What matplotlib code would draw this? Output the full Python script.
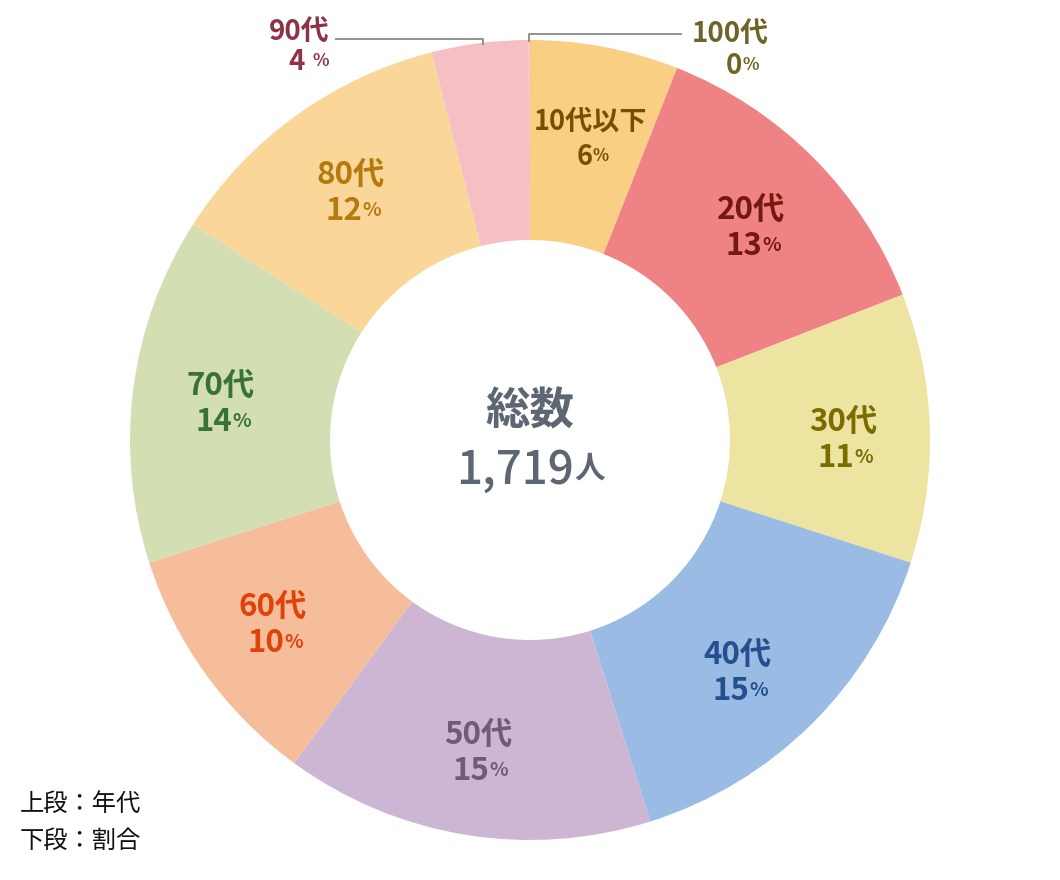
import numpy as np
import matplotlib.pyplot as plt

plt.rcParams['font.family'] = ['Noto Sans CJK JP', 'DejaVu Sans']

groups = ['10代以下', '20代', '30代', '40代', '50代', '60代', '70代', '80代', '90代', '100代']
counts = [103, 225, 187, 261, 256, 172, 241, 206, 67, 1]
percents = [6, 13, 11, 15, 15, 10, 14, 12, 4, 0]
total_label = '1,719'

wedge_colors = ['#F9CF84', '#EF8285', '#EEE4A1', '#9ABBE4', '#CDB5D4',
                '#F6BD9A', '#D3DEB3', '#FAD799', '#F6BFC3', '#F6BFC3']
text_colors = ['#7A4E02', '#731A0C', '#7A6C00', '#245090', '#6E5B76',
               '#E0420A', '#3A7232', '#B57A0E', '#8C3446', '#6E6425']
# small position tweaks for the inner labels (px, right / down)
label_nudge = [(2, 4), (1, 7), (3, 9), (-11, 13), (-2, 7), (-6, 3), (-2, 4), (2, 4)]

W, H = 1060, 880
fig = plt.figure(figsize=(W / 100, H / 100), dpi=100)
ax = fig.add_axes([0, 0, 1, 1])

cx, cy, r_out = 530, 440, 400
wedges, _ = ax.pie(counts, radius=r_out, center=(cx, cy), startangle=90,
                   counterclock=False, colors=wedge_colors,
                   wedgeprops=dict(width=200, linewidth=0))
ax.set_xlim(0, W)
ax.set_ylim(0, H)
ax.set_aspect('equal')
ax.axis('off')


def pct_text(x, y, value, color, size, gap=''):
    t = ax.text(x - 0.3 * size, y, str(value) + gap, ha='center', va='center',
                fontsize=size, color=color, fontweight='bold')
    ax.annotate('%', xy=(1, 0.22), xycoords=t, ha='left', va='bottom',
                fontsize=size * 0.62, color=color, fontweight='bold')


# labels inside the ring
for i in range(8):
    w = wedges[i]
    th = np.deg2rad((w.theta1 + w.theta2) / 2)
    dx, dy = label_nudge[i]
    x = cx + 310 * np.cos(th) + dx
    y = cy + 310 * np.sin(th) - dy
    size = 19.5 if i == 0 else 22.5
    ax.text(x, y + 18, groups[i], ha='center', va='center', fontsize=size,
            color=text_colors[i], fontweight='bold')
    pct_text(x, y - 18, percents[i], text_colors[i], size)

# small slices with leader lines
for i, side in [(8, -1), (9, 1)]:
    w = wedges[i]
    th = np.deg2rad((w.theta1 + w.theta2) / 2)
    x0 = cx + r_out * np.cos(th) + (3 if i == 8 else 0)
    y0 = cy + r_out * np.sin(th)
    ly = y0 + (4 if i == 8 else 6)
    x1 = x0 + side * (148 if i == 8 else 153)
    ax.plot([x0, x0, x1], [y0 - 2, ly, ly], color='#8A8A8A', lw=1.3,
            solid_capstyle='butt')
    if side < 0:
        ax.text(x1 - 5, ly + 7, groups[i], ha='right', va='center', fontsize=20,
                color=text_colors[i], fontweight='bold')
        pct_text(x1 - 28, ly - 23, percents[i], text_colors[i], 20, gap=' ')
    else:
        ax.text(x1 + 48, ly, groups[i], ha='center', va='center', fontsize=20,
                color=text_colors[i], fontweight='bold')
        pct_text(x1 + 58, ly - 32, percents[i], text_colors[i], 20)

# centre text
ax.text(cx, H - 412, '総数', ha='center', va='center', fontsize=32,
        color='#5F6673', fontweight='bold')
t = ax.text(cx - 15, H - 470, total_label, ha='center', va='center', fontsize=33,
            color='#5F6673', fontweight='medium')
ax.annotate('人', xy=(1, 0.2), xycoords=t, ha='left', va='bottom', fontsize=22,
            color='#5F6673', fontweight='bold')

# note
ax.text(20, H - 804, '上段：年代', ha='left', va='center', fontsize=17.5, color='#111111')
ax.text(20, H - 841, '下段：割合', ha='left', va='center', fontsize=17.5, color='#111111')

fig.savefig('out.png', dpi=100)
